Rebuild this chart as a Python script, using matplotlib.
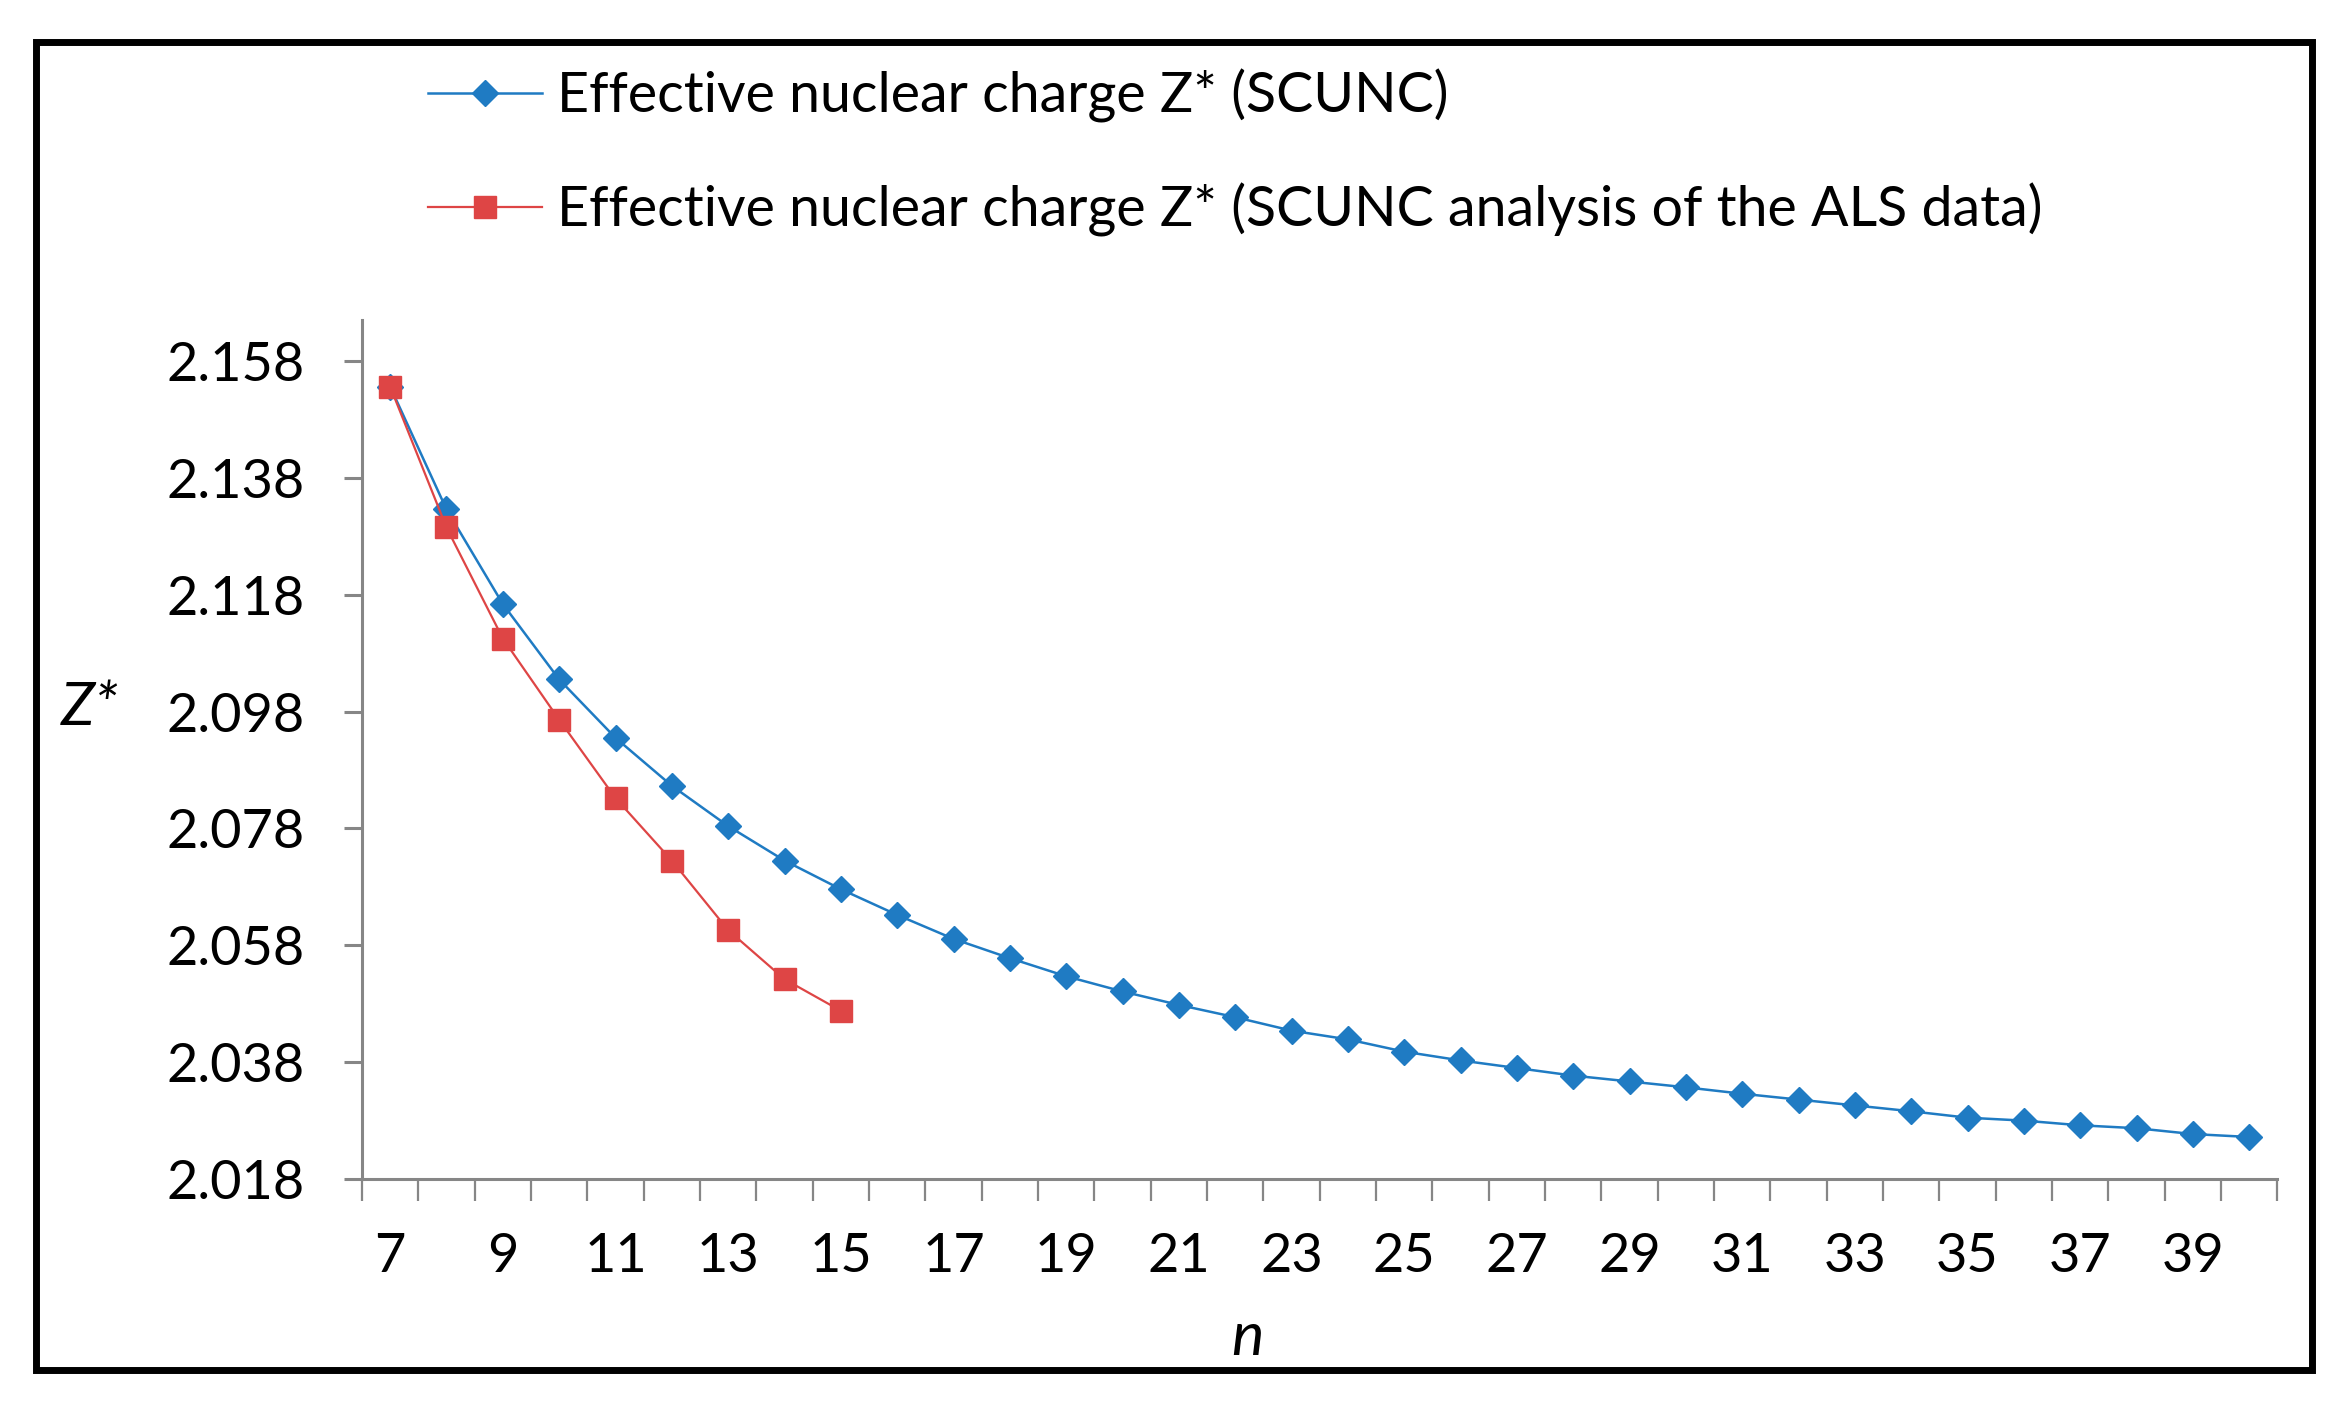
import matplotlib
matplotlib.use("Agg")
import matplotlib.pyplot as plt
from matplotlib.patches import Rectangle

plt.rcParams['font.family'] = ['Lato', 'DejaVu Sans']

n_scunc = list(range(7, 41))
z_scunc = [2.1536, 2.1326, 2.1164, 2.1035, 2.0935, 2.0853, 2.0784, 2.0725, 2.0676,
           2.0632, 2.0591, 2.0558, 2.0527, 2.0501, 2.0478, 2.0457, 2.0434, 2.0419,
           2.0398, 2.0383, 2.0370, 2.0357, 2.0347, 2.0337, 2.0326, 2.0316, 2.0306,
           2.0296, 2.0285, 2.0280, 2.0272, 2.0267, 2.0257, 2.0252]
n_als = list(range(7, 16))
z_als = [2.1536, 2.1295, 2.1105, 2.0966, 2.0832, 2.0725, 2.0606, 2.0522, 2.0468]

label_scunc = "Effective nuclear charge Z* (SCUNC)"
label_als = "Effective nuclear charge Z* (SCUNC analysis of the ALS data)"
y_ticks = [2.018, 2.038, 2.058, 2.078, 2.098, 2.118, 2.138, 2.158]
x_ticks = list(range(7, 40, 2))

blue = "#1F7BC3"
red = "#DE4545"
axis_gray = "#868686"

fig = plt.figure(figsize=(23.43, 14.08), dpi=100)
ax = fig.add_axes([0.1545, 0.1626, 0.972 - 0.1545, 0.7727 - 0.1626])

ax.plot(n_scunc, z_scunc, color=blue, lw=1.8, marker='D', ms=13,
        markerfacecolor=blue, markeredgecolor=blue, label=label_scunc, zorder=3)
ax.plot(n_als, z_als, color=red, lw=1.6, marker='s', ms=15.5,
        markerfacecolor=red, markeredgecolor=red, label=label_als, zorder=4)

ax.set_xlim(6.5, 40.5)
ax.set_ylim(2.018, 2.165)

ax.set_yticks(y_ticks)
ax.set_yticklabels([f"{v:.3f}" for v in y_ticks])
ax.set_xticks(x_ticks)
ax.set_xticklabels([str(v) for v in x_ticks])
ax.set_xticks([v + 0.5 for v in range(6, 41)], minor=True)

for s in ['top', 'right']:
    ax.spines[s].set_visible(False)
for s in ['left', 'bottom']:
    ax.spines[s].set_color(axis_gray)
    ax.spines[s].set_linewidth(2.2)

ax.tick_params(axis='y', which='major', length=13, width=2.2, color=axis_gray,
               labelsize=39, pad=28, labelcolor='black')
ax.tick_params(axis='x', which='major', length=0, labelsize=39, pad=38,
               labelcolor='black')
ax.tick_params(axis='x', which='minor', length=16, width=1.6, color=axis_gray,
               direction='out')

fig.text(0.0385, 0.497, "Z*", fontsize=44, style='italic', ha='center', va='center')
fig.text(0.5325, 0.050, "n", fontsize=44, style='italic', ha='center', va='center')

leg = fig.legend(loc='upper left', bbox_to_anchor=(0.1826, 0.951), frameon=False,
                 fontsize=40, handlelength=2.05, handletextpad=0.28,
                 labelspacing=1.08, borderaxespad=0, borderpad=0)

fig.add_artist(Rectangle((36 / 2343, 1 - 1370 / 1408), (2312 - 36) / 2343,
                         (1370 - 42) / 1408, transform=fig.transFigure,
                         fill=False, edgecolor='black', linewidth=5))

fig.savefig("out.png", dpi=100)
